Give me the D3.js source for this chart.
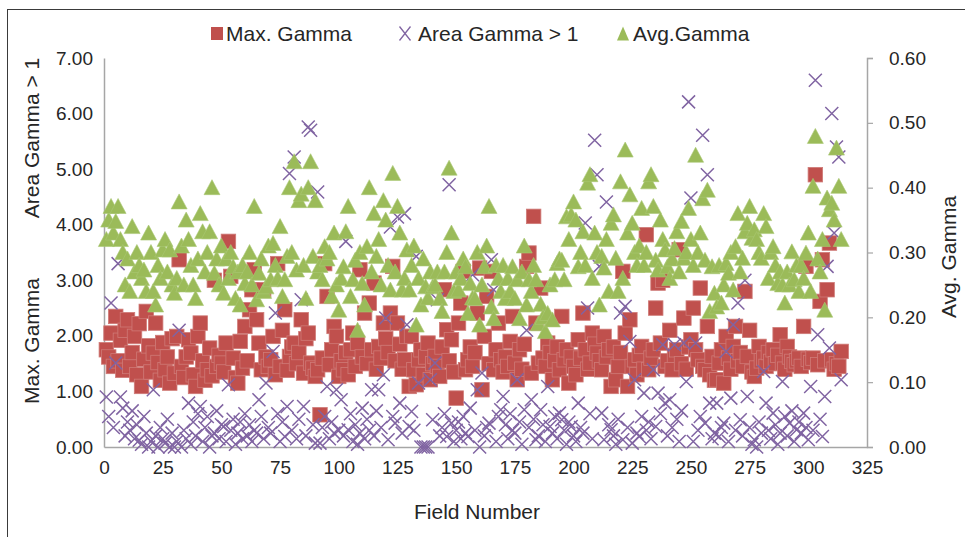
<!DOCTYPE html>
<html><head><meta charset="utf-8">
<script src="https://cdn.jsdelivr.net/npm/d3@7"></script>
<style>
body{margin:0;background:#fff}
text{font-family:"Liberation Sans",Arial,sans-serif;fill:#262626}
</style></head>
<body><svg id="c" width="965" height="537"></svg>
<script>
const maxGamma = [
1.75,1.62,2.05,1.45,2.35,1.55,1.92,1.38,2.10,2.29,
1.45,1.70,1.99,1.30,2.22,1.09,1.58,2.44,1.82,1.35,
1.69,2.23,1.52,1.20,1.88,1.39,1.62,1.15,1.95,1.33,
1.99,3.37,1.45,1.25,1.62,1.93,1.69,1.30,1.09,1.99,
2.23,1.55,1.20,1.39,1.78,1.28,3.00,1.45,1.65,1.51,
1.35,1.87,3.70,3.07,1.60,1.25,1.15,1.90,1.42,2.17,
1.55,2.47,2.83,3.19,2.29,1.87,1.39,2.83,1.62,1.45,
1.57,1.99,1.30,3.30,1.45,2.10,2.47,1.38,1.63,1.80,
1.87,1.50,1.70,2.29,1.33,1.95,2.05,1.51,1.42,1.27,
1.39,0.58,1.60,3.30,2.71,1.48,1.75,2.17,1.99,1.27,
1.55,1.39,1.70,1.30,1.75,2.05,1.45,1.87,3.19,1.62,
2.41,1.50,2.59,1.75,2.95,1.40,1.81,1.60,2.23,1.95,
1.70,2.41,3.25,1.55,2.23,1.85,1.40,1.57,1.99,1.09,
1.99,1.39,1.12,1.57,1.75,1.30,1.62,1.87,1.21,1.50,
1.63,1.45,1.27,1.80,2.83,2.11,1.55,1.93,1.35,0.88,
2.23,2.59,3.16,1.39,1.57,1.80,1.45,1.70,2.41,3.22,
1.03,1.99,2.71,1.50,3.16,1.39,1.75,2.23,1.57,1.35,
1.62,1.45,1.90,2.35,1.51,1.21,1.75,1.40,1.85,3.25,
3.49,1.33,4.15,2.23,1.51,2.86,1.60,1.45,1.87,1.70,
1.21,1.55,1.80,1.39,2.35,1.57,1.75,1.15,1.62,1.45,
1.30,1.93,1.60,2.41,1.75,1.40,1.51,2.05,1.85,1.69,
1.55,1.39,1.99,1.62,1.75,1.09,1.80,1.21,1.45,1.70,
3.16,2.05,1.09,2.29,1.45,1.57,1.30,1.65,1.81,1.40,
3.82,1.39,1.60,1.75,2.50,2.95,1.87,3.00,1.45,1.55,
2.10,1.39,1.65,1.75,3.55,1.50,2.32,1.40,1.80,1.93,
2.50,1.75,1.57,2.86,1.45,1.39,2.17,1.30,1.63,1.20,
1.21,1.51,1.75,1.15,1.99,1.60,1.40,1.81,2.17,1.55,
1.70,1.45,2.80,1.63,2.10,1.35,1.27,1.42,1.81,1.55,
1.60,1.45,1.70,1.54,1.75,1.50,1.65,2.02,1.51,1.40,
1.81,1.62,1.54,1.48,1.55,1.60,1.45,2.17,3.25,1.58,
1.52,1.60,4.90,1.48,2.62,3.37,1.55,2.83,3.67,1.57,
1.40,1.50,1.45,1.72];

const areaGamma = [
0.90,0.55,2.59,0.35,1.51,3.30,0.90,0.70,0.20,0.45,
0.30,0.65,0.15,0.40,0.12,0.05,0.55,0.25,0.00,0.10,
1.03,0.20,0.00,0.35,0.15,0.07,0.50,0.00,0.25,0.00,
0.10,2.10,0.00,0.30,0.15,0.79,0.05,0.45,0.20,0.60,
0.73,0.10,0.35,0.55,0.00,0.20,0.25,0.65,0.15,0.40,
0.37,0.10,1.12,0.30,0.50,0.05,0.25,0.45,0.15,0.60,
0.20,0.40,0.10,0.30,0.25,0.85,0.55,0.15,1.15,0.35,
0.25,1.72,2.41,0.60,0.10,0.45,0.19,0.73,4.92,0.30,
5.22,0.15,0.50,2.65,0.73,0.20,5.76,5.70,0.40,0.07,
4.59,0.07,0.35,0.55,1.09,0.15,0.45,0.25,1.03,0.30,
0.85,0.20,3.70,0.31,0.60,0.10,0.40,0.05,0.25,0.70,
0.15,0.50,0.30,1.03,0.20,0.65,1.03,0.35,1.30,2.32,
0.13,3.96,0.55,0.43,4.14,0.79,0.25,4.20,2.20,0.37,
0.64,0.30,3.43,1.15,0.00,0.00,0.00,0.00,1.21,0.49,
1.51,2.65,0.20,0.35,0.60,0.19,4.72,0.43,0.10,0.30,
0.45,0.15,0.55,0.25,0.19,0.70,3.10,0.30,1.03,0.00,
1.33,0.20,0.35,0.43,3.37,2.83,0.10,0.55,0.67,0.91,
0.40,0.15,0.60,0.30,0.25,1.21,0.45,0.05,0.67,2.10,
0.35,0.85,0.50,0.13,0.20,0.67,0.40,0.10,1.09,0.37,
0.25,0.55,0.15,0.61,0.49,0.30,0.05,0.45,0.37,0.20,
0.10,0.79,0.35,0.25,4.03,2.50,0.60,0.15,5.52,4.90,
3.25,0.61,0.13,4.41,0.40,0.31,0.20,0.05,0.50,2.41,
0.13,2.53,0.35,1.90,0.07,1.21,0.25,0.19,0.55,0.97,
0.30,0.45,0.15,1.39,0.37,0.97,0.60,1.84,0.79,0.20,
0.85,0.35,1.84,0.50,0.10,0.65,1.87,1.18,6.21,4.48,
0.10,1.87,0.30,0.55,5.61,0.43,4.90,0.79,0.15,0.25,
0.79,0.19,0.35,0.43,1.72,0.10,0.88,2.20,0.30,2.59,
0.49,0.20,3.00,0.91,0.35,0.05,0.13,0.00,0.45,0.25,
1.36,0.79,0.30,0.15,0.61,0.40,0.05,0.25,1.18,0.55,
0.20,0.43,0.65,0.10,0.31,0.45,0.25,0.61,0.35,0.13,
1.09,0.30,6.60,2.02,0.50,0.19,0.91,3.25,1.78,6.00,
3.85,5.40,5.22,1.21];

const avgGamma = [
0.32,0.35,0.371,0.33,0.348,0.371,0.32,0.30,0.25,0.29,
0.24,0.34,0.27,0.30,0.28,0.26,0.273,0.24,0.33,0.30,
0.24,0.219,0.28,0.26,0.304,0.32,0.27,0.304,0.25,0.237,
0.26,0.378,0.31,0.25,0.35,0.32,0.28,0.25,0.229,0.29,
0.36,0.332,0.27,0.30,0.332,0.40,0.268,0.29,0.25,0.31,
0.237,0.29,0.26,0.30,0.278,0.229,0.27,0.219,0.28,0.252,
0.27,0.30,0.25,0.371,0.227,0.268,0.29,0.24,0.247,0.31,
0.258,0.314,0.28,0.26,0.34,0.232,0.258,0.294,0.40,0.30,
0.44,0.273,0.38,0.39,0.28,0.229,0.40,0.44,0.294,0.38,
0.27,0.28,0.258,0.309,0.29,0.30,0.232,0.33,0.25,0.211,
0.26,0.278,0.332,0.371,0.232,0.258,0.288,0.18,0.30,0.252,
0.219,0.309,0.40,0.27,0.36,0.294,0.32,0.25,0.38,0.35,
0.28,0.242,0.422,0.27,0.371,0.33,0.242,0.26,0.304,0.242,
0.28,0.31,0.188,0.26,0.219,0.29,0.247,0.23,0.27,0.247,
0.25,0.27,0.229,0.209,0.27,0.30,0.43,0.33,0.24,0.27,
0.242,0.26,0.29,0.278,0.206,0.252,0.23,0.229,0.30,0.188,
0.25,0.278,0.31,0.371,0.216,0.198,0.28,0.26,0.24,0.28,
0.229,0.26,0.24,0.278,0.229,0.258,0.198,0.27,0.31,0.219,
0.258,0.24,0.28,0.258,0.19,0.22,0.20,0.178,0.206,0.25,
0.196,0.258,0.283,0.29,0.288,0.258,0.355,0.32,0.358,0.378,
0.35,0.278,0.30,0.332,0.28,0.407,0.42,0.26,0.33,0.30,
0.219,0.294,0.276,0.32,0.24,0.345,0.358,0.291,0.24,0.409,
0.26,0.458,0.33,0.389,0.345,0.30,0.28,0.31,0.368,0.28,
0.30,0.409,0.42,0.371,0.288,0.273,0.35,0.32,0.304,0.278,
0.26,0.29,0.306,0.332,0.27,0.348,0.291,0.30,0.368,0.32,
0.28,0.45,0.30,0.33,0.383,0.288,0.396,0.209,0.278,0.237,
0.216,0.28,0.222,0.25,0.283,0.268,0.30,0.242,0.309,0.36,
0.27,0.291,0.332,0.345,0.371,0.322,0.335,0.32,0.30,0.291,
0.36,0.34,0.26,0.30,0.309,0.28,0.252,0.27,0.25,0.222,
0.27,0.25,0.301,0.258,0.28,0.24,0.28,0.26,0.299,0.33,
0.24,0.402,0.479,0.29,0.27,0.32,0.211,0.384,0.366,0.376,
0.35,0.461,0.402,0.32];

const xTicks = [0,25,50,75,100,125,150,175,200,225,250,275,300,325];
const leftTicks = [0,1,2,3,4,5,6,7];
const rightTicks = [0,0.1,0.2,0.3,0.4,0.5,0.6];
const seriesNames = ["Max. Gamma","Area Gamma > 1","Avg.Gamma"];
const fieldNumbers = maxGamma.map((d,i)=>i+1);

const RED="#C0504D", PURPLE="#8064A2", GREEN="#9BBB59", AXIS="#a6a6a6";
const svg = d3.select("#c");

// outer frame
svg.append("rect").attr("x",7.5).attr("y",9.5).attr("width",990).attr("height",560)
  .attr("fill","none").attr("stroke","#3a3a3a").attr("stroke-width",1);

const x = d3.scaleLinear().domain([0,325]).range([104,867]);
const yL = d3.scaleLinear().domain([0,7]).range([447,58]);
const yR = d3.scaleLinear().domain([0,0.6]).range([447,58]);

function styleAxis(g){
  g.select(".domain").attr("stroke",AXIS).attr("stroke-width",1.5);
  g.selectAll(".tick line").attr("stroke",AXIS).attr("stroke-width",1.2);
  g.selectAll(".tick text").attr("font-size",19).attr("fill","#262626")
    .attr("font-family","'Liberation Sans',Arial,sans-serif");
}
svg.append("g").attr("transform","translate(0,447)")
  .call(d3.axisBottom(x).tickValues(xTicks).tickSize(0).tickPadding(14).tickFormat(d3.format("d")))
  .call(styleAxis);
svg.append("g").attr("transform","translate(104,0)")
  .call(d3.axisLeft(yL).tickValues(leftTicks).tickSize(0).tickPadding(11).tickFormat(d3.format(".2f")))
  .call(styleAxis);
svg.append("g").attr("transform","translate(867,0)")
  .call(d3.axisRight(yR).tickValues(rightTicks).tickSize(6).tickPadding(16).tickFormat(d3.format(".2f")))
  .call(styleAxis);

// markers
const sq = 14.5;
const plot = svg.append("g");
plot.selectAll("rect.mg").data(maxGamma).join("rect").attr("class","mg")
  .attr("x",(d,i)=>x(fieldNumbers[i])-sq/2).attr("y",d=>yL(d)-sq/2)
  .attr("width",sq).attr("height",sq)
  .attr("fill",RED).attr("stroke","#cf7a77").attr("stroke-width",0.8);

const xs = 6.5;
const xPath = `M${-xs},${-xs}L${xs},${xs}M${-xs},${xs}L${xs},${-xs}`;
plot.selectAll("path.ag").data(areaGamma).join("path").attr("class","ag")
  .attr("transform",(d,i)=>`translate(${x(fieldNumbers[i])},${yL(d)})`)
  .attr("d",xPath).attr("fill","none").attr("stroke",PURPLE).attr("stroke-width",1.5);

const th = 14, tw = 16;
const triPath = `M0,${-th/2-1}L${tw/2},${th/2}L${-tw/2},${th/2}Z`;
plot.selectAll("path.av").data(avgGamma).join("path").attr("class","av")
  .attr("transform",(d,i)=>`translate(${x(fieldNumbers[i])},${yR(d)})`)
  .attr("d",triPath).attr("fill",GREEN).attr("stroke","#a9c773").attr("stroke-width",0.6);

// axis titles
svg.append("text").attr("x",477).attr("y",519).attr("text-anchor","middle")
  .attr("font-size",21).text("Field Number");
svg.append("text").attr("transform","translate(39,138) rotate(-90)").attr("text-anchor","middle")
  .attr("font-size",21).text("Area Gamma > 1");
svg.append("text").attr("transform","translate(39,341) rotate(-90)").attr("text-anchor","middle")
  .attr("font-size",21).text("Max. Gamma");
svg.append("text").attr("transform","translate(956,257) rotate(-90)").attr("text-anchor","middle")
  .attr("font-size",21).text("Avg. Gamma");

// legend
const lg = svg.append("g");
lg.append("rect").attr("x",211).attr("y",27).attr("width",12).attr("height",13).attr("fill",RED);
lg.append("text").attr("x",226).attr("y",41).attr("font-size",21).text(seriesNames[0]);
lg.append("path").attr("transform","translate(405,33.5)")
  .attr("d","M-5.5,-7L5.5,7M-5.5,7L5.5,-7").attr("stroke",PURPLE).attr("stroke-width",1.3).attr("fill","none");
lg.append("text").attr("x",418).attr("y",41).attr("font-size",21).text(seriesNames[1]);
lg.append("path").attr("transform","translate(623,33.5)")
  .attr("d","M0,-7L6,7L-6,7Z").attr("fill",GREEN);
lg.append("text").attr("x",633).attr("y",41).attr("font-size",21).text(seriesNames[2]);
</script>
</body></html>
